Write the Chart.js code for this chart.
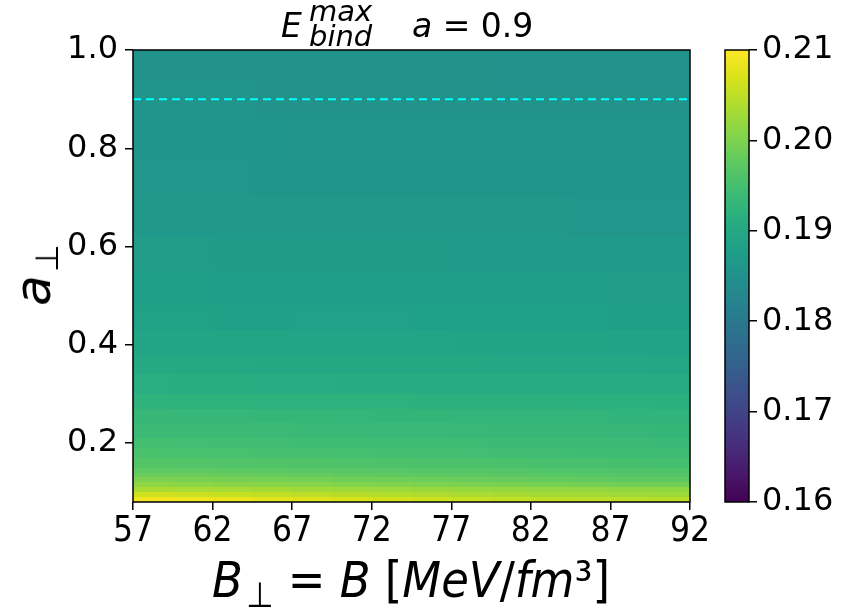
<!DOCTYPE html>
<html>
<head>
<meta charset="utf-8">
<script src="https://cdn.jsdelivr.net/npm/chart.js@4.4.1/dist/chart.umd.min.js"></script>
<style>
  body { margin: 0; background: #fff; }
  #wrap { position: relative; width: 844px; height: 611px; font-family: 'DejaVu Sans', sans-serif; color: #000; }
  canvas { position: absolute; top: 0; }
  .lbl { position: absolute; white-space: nowrap; line-height: 1; }
</style>
</head>
<body>
<div id="wrap">
  <canvas id="main" width="844" height="611" style="left:0"></canvas>
  <canvas id="cbar" width="144" height="611" style="left:700px"></canvas>

  <!-- title: E_bind^max   a = 0.9 -->
  <div class="lbl" style="left:281px;top:9px;font-size:33px"><i>E</i></div>
  <div class="lbl" style="left:309px;top:-3px;font-size:29px"><i>max</i></div>
  <div class="lbl" style="left:309px;top:22px;font-size:29px"><i>bind</i></div>
  <div class="lbl" style="left:412px;top:9px;font-size:33px"><i>a</i> = 0.9</div>

  <!-- y label -->
  <div class="lbl" id="ylab" style="left:33px;top:275px;font-size:50px;transform:translate(-50%,-50%) rotate(-90deg)"><i>a</i><span style="font-size:32px;position:relative;top:8px">&#8202;⊥</span></div>

  <!-- x label -->
  <div class="lbl" id="xlab" style="left:411px;top:555px;font-size:50px;transform:translateX(-50%);font-family:'DejaVu Sans Condensed','DejaVu Sans',sans-serif"><i>B</i><span style="font-size:35px;position:relative;top:10px">&#8202;⊥</span> = <i>B</i> [<i>MeV</i>/<i>fm</i>³]</div>
</div>

<script>
// Grid edges of the heat map (B in MeV/fm^3, a_perp)
var bEdges = [57, 59.5, 62, 64.5, 67, 69.5, 72, 74.5, 77, 79.5, 82, 84.5, 87, 89.5, 92];
var aEdges = [0.08, 0.09, 0.10, 0.11, 0.12, 0.13, 0.14, 0.15, 0.17, 0.19, 0.21, 0.24, 0.27,
              0.30, 0.34, 0.38, 0.43, 0.48, 0.55, 0.62, 0.70, 0.78, 0.86, 0.93, 1.00];

// E_bind^max values, one row per a band (bottom to top), one entry per B band
var ebind = [
  [0.2090, 0.2087, 0.2083, 0.2079, 0.2074, 0.2069, 0.2064, 0.2060, 0.2056, 0.2053, 0.2050, 0.2048, 0.2046, 0.2045],
  [0.2062, 0.2059, 0.2056, 0.2052, 0.2049, 0.2045, 0.2042, 0.2039, 0.2036, 0.2033, 0.2031, 0.2029, 0.2027, 0.2026],
  [0.2035, 0.2034, 0.2032, 0.2030, 0.2028, 0.2026, 0.2024, 0.2022, 0.2020, 0.2019, 0.2018, 0.2017, 0.2016, 0.2015],
  [0.2015, 0.2013, 0.2011, 0.2009, 0.2007, 0.2005, 0.2003, 0.2001, 0.1999, 0.1997, 0.1995, 0.1993, 0.1991, 0.1990],
  [0.2000, 0.1998, 0.1996, 0.1994, 0.1992, 0.1990, 0.1988, 0.1986, 0.1984, 0.1982, 0.1980, 0.1978, 0.1976, 0.1975],
  [0.1985, 0.1984, 0.1982, 0.1980, 0.1979, 0.1977, 0.1976, 0.1974, 0.1972, 0.1971, 0.1969, 0.1968, 0.1966, 0.1965],
  [0.1975, 0.1974, 0.1973, 0.1971, 0.1970, 0.1969, 0.1968, 0.1966, 0.1965, 0.1964, 0.1963, 0.1962, 0.1961, 0.1960],
  [0.1965, 0.1964, 0.1963, 0.1962, 0.1961, 0.1960, 0.1958, 0.1957, 0.1956, 0.1955, 0.1954, 0.1953, 0.1951, 0.1950],
  [0.1955, 0.1954, 0.1953, 0.1952, 0.1951, 0.1950, 0.1949, 0.1948, 0.1947, 0.1946, 0.1945, 0.1944, 0.1943, 0.1942],
  [0.1948, 0.1947, 0.1946, 0.1945, 0.1944, 0.1943, 0.1942, 0.1942, 0.1941, 0.1940, 0.1939, 0.1939, 0.1938, 0.1937],
  [0.1940, 0.1939, 0.1938, 0.1938, 0.1937, 0.1936, 0.1935, 0.1935, 0.1934, 0.1933, 0.1932, 0.1932, 0.1931, 0.1930],
  [0.1932, 0.1931, 0.1931, 0.1930, 0.1930, 0.1929, 0.1928, 0.1928, 0.1927, 0.1927, 0.1926, 0.1926, 0.1925, 0.1925],
  [0.1922, 0.1921, 0.1921, 0.1920, 0.1920, 0.1919, 0.1919, 0.1918, 0.1918, 0.1917, 0.1917, 0.1916, 0.1916, 0.1915],
  [0.1912, 0.1911, 0.1911, 0.1910, 0.1910, 0.1909, 0.1909, 0.1908, 0.1908, 0.1907, 0.1907, 0.1906, 0.1906, 0.1905],
  [0.1902, 0.1901, 0.1901, 0.1900, 0.1900, 0.1899, 0.1899, 0.1898, 0.1898, 0.1897, 0.1897, 0.1896, 0.1896, 0.1895],
  [0.1893, 0.1893, 0.1892, 0.1892, 0.1891, 0.1891, 0.1890, 0.1890, 0.1889, 0.1889, 0.1888, 0.1888, 0.1887, 0.1887],
  [0.1885, 0.1885, 0.1884, 0.1884, 0.1883, 0.1883, 0.1883, 0.1882, 0.1882, 0.1881, 0.1881, 0.1881, 0.1880, 0.1880],
  [0.1878, 0.1878, 0.1877, 0.1877, 0.1876, 0.1876, 0.1876, 0.1875, 0.1875, 0.1875, 0.1874, 0.1874, 0.1873, 0.1873],
  [0.1872, 0.1872, 0.1871, 0.1871, 0.1871, 0.1870, 0.1870, 0.1870, 0.1869, 0.1869, 0.1869, 0.1868, 0.1868, 0.1868],
  [0.1866, 0.1866, 0.1866, 0.1865, 0.1865, 0.1865, 0.1865, 0.1864, 0.1864, 0.1864, 0.1864, 0.1863, 0.1863, 0.1863],
  [0.1862, 0.1862, 0.1862, 0.1861, 0.1861, 0.1861, 0.1861, 0.1860, 0.1860, 0.1860, 0.1860, 0.1859, 0.1859, 0.1859],
  [0.1858, 0.1858, 0.1858, 0.1858, 0.1857, 0.1857, 0.1857, 0.1857, 0.1857, 0.1856, 0.1856, 0.1856, 0.1856, 0.1856],
  [0.1856, 0.1856, 0.1856, 0.1855, 0.1855, 0.1855, 0.1855, 0.1855, 0.1855, 0.1855, 0.1854, 0.1854, 0.1854, 0.1854],
  [0.1855, 0.1855, 0.1855, 0.1854, 0.1854, 0.1854, 0.1854, 0.1854, 0.1854, 0.1853, 0.1853, 0.1853, 0.1853, 0.1853]
];

// Dashed reference line
var guideA = 0.9;

// Tick labels
var xTicks = [57, 62, 67, 72, 77, 82, 87, 92];
var yTicks = [0.2, 0.4, 0.6, 0.8, 1.0];
var cbTicks = [0.16, 0.17, 0.18, 0.19, 0.20, 0.21];

// Colour scale range
var cMin = 0.16;
var cMax = 0.21;

// Viridis colour stops
var viridisStops = ['#440154', '#48186a', '#472d7b', '#424086', '#3b528b', '#33638d', '#2c728e', '#26828e',
                    '#21918c', '#1fa088', '#28ae80', '#3fbc73', '#5ec962', '#84d44b', '#addc30', '#d8e219', '#fde725'];

function hexToRgb(h) {
  return [parseInt(h.substr(1, 2), 16), parseInt(h.substr(3, 2), 16), parseInt(h.substr(5, 2), 16)];
}

function viridis(t) {
  t = Math.max(0, Math.min(1, t));
  var n = viridisStops.length - 1;
  var k = Math.min(n - 1, Math.floor(t * n));
  var f = t * n - k;
  var c0 = hexToRgb(viridisStops[k]), c1 = hexToRgb(viridisStops[k + 1]);
  var c = [0, 1, 2].map(function(i) { return Math.round(c0[i] + (c1[i] - c0[i]) * f); });
  return 'rgb(' + c.join(',') + ')';
}

var tickFont = { family: "'DejaVu Sans', sans-serif", size: 32 };
var xTickFont = { family: "'DejaVu Sans Condensed', 'DejaVu Sans', sans-serif", size: 35 };
var gridStyle = { display: true, drawOnChartArea: false, drawTicks: true, tickLength: 8, color: '#000', lineWidth: 1.5 };

// Draws the heat map cells through the chart scales, and the frame
var heatmapPlugin = {
  id: 'heatmap',
  beforeDatasetsDraw: function(chart) {
    var ctx = chart.ctx, xs = chart.scales.x, ys = chart.scales.y;
    ctx.save();
    for (var i = 0; i < aEdges.length - 1; i++) {
      var yTop = Math.round(ys.getPixelForValue(aEdges[i + 1]));
      var yBot = Math.round(ys.getPixelForValue(aEdges[i]));
      for (var j = 0; j < bEdges.length - 1; j++) {
        var x0 = Math.round(xs.getPixelForValue(bEdges[j]));
        var x1 = Math.round(xs.getPixelForValue(bEdges[j + 1]));
        ctx.fillStyle = viridis((ebind[i][j] - cMin) / (cMax - cMin));
        ctx.fillRect(x0, yTop, x1 - x0, yBot - yTop);
      }
    }
    ctx.restore();
  },
  afterDraw: function(chart) {
    var a = chart.chartArea, ctx = chart.ctx;
    ctx.save();
    ctx.strokeStyle = '#000';
    ctx.lineWidth = 1.5;
    ctx.strokeRect(a.left, a.top, a.right - a.left, a.bottom - a.top);
    ctx.restore();
  }
};

new Chart(document.getElementById('main'), {
  type: 'line',
  data: {
    datasets: [{
      data: [{ x: bEdges[0], y: guideA }, { x: bEdges[bEdges.length - 1], y: guideA }],
      borderColor: '#00ffff',
      borderWidth: 2,
      borderDash: [8, 5],
      pointRadius: 0
    }]
  },
  options: {
    responsive: false,
    animation: false,
    devicePixelRatio: 1,
    layout: { padding: { top: 50, right: 154, left: 0, bottom: 0 } },
    plugins: { legend: { display: false }, tooltip: { enabled: false } },
    scales: {
      x: {
        type: 'linear',
        min: 57,
        max: 92,
        grid: gridStyle,
        border: { display: false },
        afterBuildTicks: function(s) { s.ticks = xTicks.map(function(v) { return { value: v }; }); },
        afterFit: function(s) { s.height = 109; },
        ticks: { color: '#000', font: xTickFont, padding: 1, maxRotation: 0, callback: function(v) { return String(v); } }
      },
      y: {
        type: 'linear',
        min: 0.08,
        max: 1.0,
        grid: gridStyle,
        border: { display: false },
        afterBuildTicks: function(s) { s.ticks = yTicks.map(function(v) { return { value: v }; }); },
        afterFit: function(s) { s.width = 133; },
        ticks: { color: '#000', font: tickFont, padding: 7, callback: function(v) { return v.toFixed(1); } }
      }
    }
  },
  plugins: [heatmapPlugin]
});

// Colour bar
var colorbarPlugin = {
  id: 'colorbar',
  beforeDatasetsDraw: function(chart) {
    var a = chart.chartArea, ctx = chart.ctx, ys = chart.scales.y;
    var g = ctx.createLinearGradient(0, ys.getPixelForValue(cMin), 0, ys.getPixelForValue(cMax));
    viridisStops.forEach(function(c, k) { g.addColorStop(k / (viridisStops.length - 1), c); });
    ctx.save();
    ctx.fillStyle = g;
    ctx.fillRect(a.left, a.top, a.right - a.left, a.bottom - a.top);
    ctx.strokeStyle = '#000';
    ctx.lineWidth = 1.5;
    ctx.strokeRect(a.left, a.top, a.right - a.left, a.bottom - a.top);
    ctx.restore();
  }
};

new Chart(document.getElementById('cbar'), {
  type: 'scatter',
  data: { datasets: [{ data: [] }] },
  options: {
    responsive: false,
    animation: false,
    devicePixelRatio: 1,
    layout: { padding: { top: 50, left: 25, right: 0, bottom: 109 } },
    plugins: { legend: { display: false }, tooltip: { enabled: false } },
    scales: {
      x: { display: false, min: 0, max: 1 },
      y: {
        position: 'right',
        min: cMin,
        max: cMax,
        grid: gridStyle,
        border: { display: false },
        afterBuildTicks: function(s) { s.ticks = cbTicks.map(function(v) { return { value: v }; }); },
        afterFit: function(s) { s.width = 95; },
        ticks: { color: '#000', font: { family: "'DejaVu Sans', sans-serif", size: 32 }, padding: 5, callback: function(v) { return v.toFixed(2); } }
      }
    }
  },
  plugins: [colorbarPlugin]
});
</script>
</body>
</html>
